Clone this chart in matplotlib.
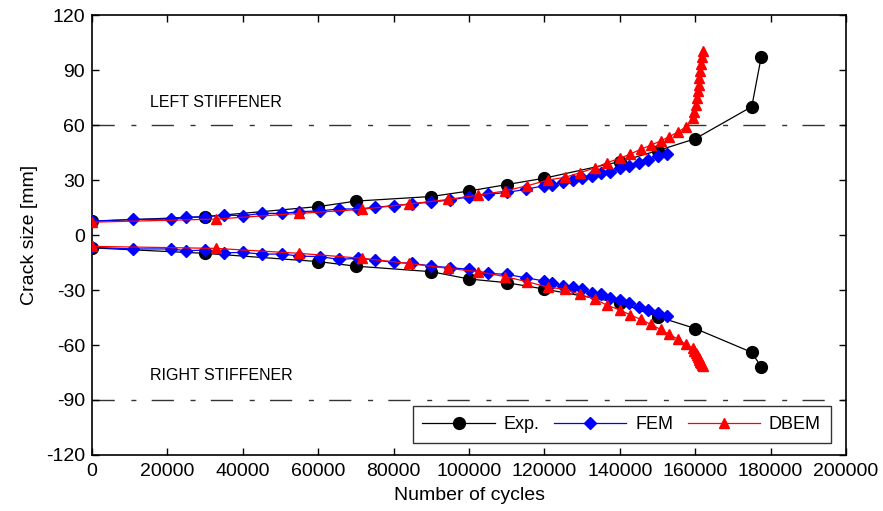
import matplotlib

matplotlib.use("Agg")
import matplotlib.pyplot as plt

# Experimental crack tips (upper = towards left stiffener, lower = right)
EXP_CYCLES = [0, 30000, 60000, 70000, 90000, 100000, 110000, 120000, 140000,
              150000, 160000, 175000, 177500]
EXP_UPPER = [7.5, 10, 15.5, 18.5, 21, 24, 27.5, 31, 40, 46, 52.5, 70, 97]
EXP_LOWER = [-7, -10, -14.5, -17, -20, -24, -26, -29.5, -37, -44.5, -51, -64, -72]

FEM_CYCLES = [0, 11000, 21000, 25000, 30000, 35000, 40000, 45000, 50500, 55000,
              60500, 65500, 70500, 75000, 80000, 85000, 90000, 95000, 100000,
              105000, 110000, 115000, 120000, 122000, 125000, 127500, 130000,
              132500, 135000, 137500, 140000, 142500, 145000, 147500, 150000,
              152500]
FEM_UPPER = [7.6, 8.5, 8.7, 9.6, 10, 10.9, 10.5, 11.8, 11.8, 12.7, 13.2, 14.2,
             14.2, 15.1, 16, 16.9, 18.1, 19, 20.9, 22.2, 23.2, 24.9, 26.9, 27.3,
             29.1, 30, 31.3, 32.3, 33.6, 34.5, 36.4, 37.6, 39.1, 40.9, 43.1, 44.2]
FEM_LOWER = [-6.7, -7.6, -7.6, -8.6, -8.2, -9.7, -9.5, -10.4, -10.4, -11.5,
             -11.8, -13.3, -12.7, -13.6, -14.9, -15.5, -16.9, -17.8, -18.7,
             -20.9, -21.5, -23.3, -25.1, -26, -27.7, -28.5, -29.6, -31.5, -32.3,
             -34.2, -35.5, -36.9, -39.1, -40.9, -42.7, -44.2]

DBEM_CYCLES = [0, 33000, 55000, 71500, 84000, 94500, 102500, 109500, 115500,
               121000, 125500, 129500, 133500, 136500, 140000, 142800, 145500,
               148200, 150800, 153100, 155400, 157600, 159500, 159800, 160100,
               160400, 160700, 160900, 161100, 161300, 161500, 161800, 162100]
DBEM_UPPER = [7, 8.7, 11.8, 14, 16.9, 19.4, 21.8, 24, 26.9, 30, 31.5, 34, 36.7,
              39.4, 41.8, 44.2, 46.7, 49, 51.3, 53.6, 56.2, 59, 63.6, 67.3, 71,
              74.7, 78.4, 82.1, 85.8, 89.5, 93.2, 96.9, 100.6]
DBEM_LOWER = [-6.2, -7.3, -10, -12.7, -15.5, -18.2, -20, -22.7, -25.5, -28.5,
              -29.6, -32.4, -35, -38.2, -40.9, -43.6, -46, -48.7, -51.5, -54.2,
              -56.8, -59.7, -61.8, -63, -64.2, -65.3, -66.3, -67.3, -68.2, -69.1,
              -70, -70.8, -71.5]

STIFFENERS = [("LEFT STIFFENER", 60, 70), ("RIGHT STIFFENER", -90, -79)]

plt.rcParams.update({
    "font.family": ["Liberation Sans", "DejaVu Sans"],
    "axes.linewidth": 1.2,
    "axes.unicode_minus": False,
})

fig = plt.figure(figsize=(8.83, 5.11), dpi=100)
ax = fig.add_axes([0.1042, 0.1096, 0.8539, 0.861])

for level in (60, -90):
    ax.plot([0, 200000], [level, level], color="#333333", linewidth=1.0,
            linestyle=(0, (16, 12, 3.6, 11)), zorder=1)
for text, _, ytext in STIFFENERS:
    ax.text(15400, ytext, text, fontsize=11.5, ha="left", va="baseline")

series = [
    ("Exp.", EXP_CYCLES, EXP_UPPER, EXP_LOWER, "black", "o", 8.5),
    ("FEM", FEM_CYCLES, FEM_UPPER, FEM_LOWER, "#0000FF", "D", 5.8),
    ("DBEM", DBEM_CYCLES, DBEM_UPPER, DBEM_LOWER, "#FF0000", "^", 7.5),
]
for label, cyc, up, low, color, marker, ms in series:
    ax.plot(cyc, up, color=color, marker=marker, markersize=ms, linewidth=0.9,
            label=label, zorder=3)
    ax.plot(cyc, low, color=color, marker=marker, markersize=ms, linewidth=0.9,
            zorder=3)

ax.set_xlim(0, 200000)
ax.set_ylim(-120, 120)
ax.set_xticks(range(0, 200001, 20000))
ax.set_yticks(range(-120, 121, 30))
ax.tick_params(direction="in", top=True, right=True, length=5, width=1.0,
               labelsize=14)
ax.tick_params(axis="x", pad=6)
ax.tick_params(axis="y", pad=5)
ax.set_xlabel("Number of cycles", fontsize=14, labelpad=5)
ax.set_ylabel("Crack size [mm]", fontsize=14, labelpad=6)

leg = ax.legend(loc="lower right", bbox_to_anchor=(0.98, 0.027), ncol=3,
                fontsize=13, frameon=True, fancybox=False, edgecolor="black",
                borderaxespad=0, handlelength=4.0, borderpad=0.55,
                columnspacing=0.8, handletextpad=0.5)
leg.get_frame().set_linewidth(1.0)

fig.savefig("out.png", dpi=100)
